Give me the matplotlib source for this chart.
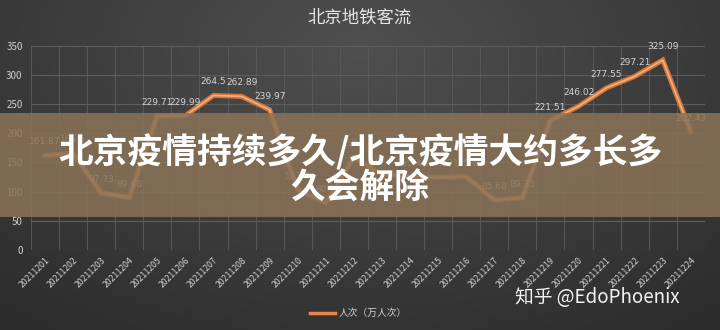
import numpy as np
import matplotlib
matplotlib.use("Agg")
import matplotlib.pyplot as plt
from matplotlib.patches import Rectangle
from matplotlib.lines import Line2D

plt.rcParams['font.family'] = ['Noto Sans CJK SC', 'DejaVu Sans']

categories = [f"202112{d:02d}" for d in range(1, 25)]
values = [161.87, 165.6, 97.73, 89.68, 229.71, 229.99, 264.5, 262.89, 239.97,
          103.2, 80.5, 158.4, 129.3, 125.4, 124.22, 125.6, 85.68, 89.35,
          221.51, 246.02, 277.55, 297.21, 325.09, 202.43]
yticks = [0, 50, 100, 150, 200, 250, 300, 350]
title = "北京地铁客流"
legend_label = "人次（万人次）"
banner_lines = ["北京疫情持续多久/北京疫情大约多长多", "久会解除"]
watermark = "知乎 @EdoPhoenix"

fig = plt.figure(figsize=(7.2, 3.3), dpi=100)

# background gradient
bg = fig.add_axes([0, 0, 1, 1], zorder=-10)
yy, xx = np.mgrid[0:1:200j, 0:1:400j]
r = np.sqrt(((xx - 0.5) / 0.75) ** 2 + ((yy - 0.15) / 1.0) ** 2)
g = 0.31 - 0.13 * np.clip(r, 0, 1.2)
bg.imshow(np.dstack([g, g, g]), extent=[0, 1, 0, 1], aspect='auto', origin='upper')
bg.axis('off')

ax = fig.add_axes([0.043, 0.2424, 0.936, 0.6197])
ax.set_facecolor('none')
x = np.arange(len(values))
ax.plot(x, values, color='#d2763a', lw=3.6, solid_joinstyle='miter', zorder=3)
ax.plot(x, values, color='#f2b07e', lw=1.2, zorder=4)
for xi, v in zip(x, values):
    ax.annotate(f"{v:g}", (xi, v), xytext=(0, 6.5), textcoords='offset points',
                ha='center', va='bottom', fontsize=6.5, color='#d4d4d4',
                family=['DejaVu Sans'], zorder=5)

ax.set_xlim(-0.5, len(values) - 0.5)
ax.set_ylim(0, 350)
ax.set_yticks(yticks)
ax.set_yticklabels([str(t) for t in yticks], fontsize=7, color='#cfcfcf')
ax.set_xticks(x)
ax.set_xticklabels(categories, rotation=45, ha='right', va='top',
                   rotation_mode='anchor', fontsize=6.3, color='#d0d0d0')
ax.set_xticks(np.arange(-0.5, len(values), 1), minor=True)
ax.tick_params(axis='both', which='both', length=0)
ax.tick_params(axis='x', pad=4)
ax.tick_params(axis='y', pad=6)
ax.grid(axis='y', which='major', color='#5e5e5e', lw=0.8)
ax.grid(axis='x', which='minor', color='#575757', lw=0.8)
ax.grid(axis='x', which='major', visible=False)
for s in ax.spines.values():
    s.set_visible(False)

fig.text(0.5, 0.945, title, ha='center', va='center', fontsize=12.5, color='#e6e6e6')

# legend
fig.add_artist(Line2D([0.431, 0.465], [0.052, 0.052], color='#e8894a', lw=2.5))
fig.text(0.47, 0.052, legend_label, ha='left', va='center', fontsize=7, color='#d0d0d0')

# banner overlay
fig.add_artist(Rectangle((0, 0.3424), 1, 0.315, transform=fig.transFigure,
                         facecolor='#8a7358', alpha=0.86, edgecolor='none', zorder=20))
fig.text(0.5, 0.538, banner_lines[0], ha='center', va='center', fontsize=25,
         fontweight='heavy', color='white', zorder=21)
fig.text(0.5, 0.43, banner_lines[1], ha='center', va='center', fontsize=25,
         fontweight='heavy', color='white', zorder=21)

fig.text(0.83, 0.097, watermark, ha='center', va='center', fontsize=13.5,
         color='#f2f2f2', zorder=21)

fig.savefig('out.png', dpi=100)
